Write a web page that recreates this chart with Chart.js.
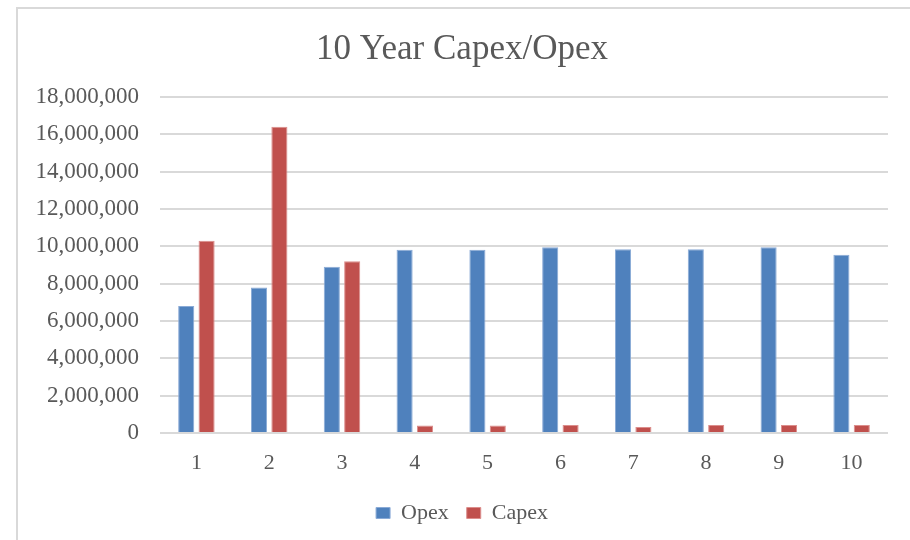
<!DOCTYPE html>
<html>
<head>
<meta charset="utf-8">
<title>10 Year Capex/Opex</title>
<script src="https://cdn.jsdelivr.net/npm/chart.js@4/dist/chart.umd.min.js"></script>
<style>
  body { margin: 0; background: #fff; overflow: hidden; }
  #frame {
    position: absolute; left: 16px; top: 7px;
    width: 1000px; height: 1000px;
    border: 2px solid #d9d9d9;
  }
  #capexChart { position: absolute; left: 0; top: 0; }
</style>
</head>
<body>
<div id="frame"></div>
<canvas id="capexChart" width="910" height="540"></canvas>
<script>
const years = ["1", "2", "3", "4", "5", "6", "7", "8", "9", "10"];
const opex = [6800000, 7800000, 8900000, 9820000, 9820000, 9950000, 9840000, 9840000, 9950000, 9550000];
const capex = [10300000, 16400000, 9200000, 400000, 400000, 430000, 320000, 430000, 430000, 430000];
const yTicks = [0, 2000000, 4000000, 6000000, 8000000, 10000000, 12000000, 14000000, 16000000, 18000000];

const textColor = "#595959";
const fontFamily = "'Liberation Serif', 'Times New Roman', serif";

const ctx = document.getElementById("capexChart").getContext("2d");
new Chart(ctx, {
  type: "bar",
  data: {
    labels: years,
    datasets: [{
      label: "Opex",
      data: opex,
      backgroundColor: "#4f81bd",
      borderColor: "#8aaad6",
      borderWidth: 1,
      categoryPercentage: 0.56,
      barPercentage: 0.79
    }, {
      label: "Capex",
      data: capex,
      backgroundColor: "#c0504d",
      borderColor: "#dc8e8c",
      borderWidth: 1,
      categoryPercentage: 0.56,
      barPercentage: 0.79
    }]
  },
  options: {
    responsive: false,
    animation: false,
    layout: {
      padding: { left: 36, right: 22, top: 0, bottom: 6 }
    },
    plugins: {
      title: {
        display: true,
        text: "10 Year Capex/Opex",
        color: textColor,
        font: { family: fontFamily, size: 35, weight: "normal" },
        padding: { top: 29, bottom: 26 }
      },
      legend: {
        position: "bottom",
        labels: {
          color: textColor,
          font: { family: fontFamily, size: 22 },
          boxWidth: 14,
          boxHeight: 11,
          padding: 18
        }
      },
      tooltip: { enabled: false }
    },
    scales: {
      x: {
        // fixed band height between the plot and the legend
        afterFit: scale => {
          scale.height = 51;
        },
        grid: { display: false, drawTicks: false },
        border: { display: false },
        ticks: {
          color: textColor,
          font: { family: fontFamily, size: 22 },
          padding: 17
        }
      },
      y: {
        min: 0,
        max: 18000000,
        afterBuildTicks: scale => {
          scale.ticks = yTicks.map(v => ({ value: v }));
        },
        afterFit: scale => {
          scale.width = 124;
        },
        grid: { color: "#d9d9d9", lineWidth: 2, drawTicks: false },
        border: { display: false },
        ticks: {
          color: textColor,
          font: { family: fontFamily, size: 23 },
          padding: 21,
          callback: v => v.toLocaleString("en-US")
        }
      }
    }
  }
});
</script>
</body>
</html>
